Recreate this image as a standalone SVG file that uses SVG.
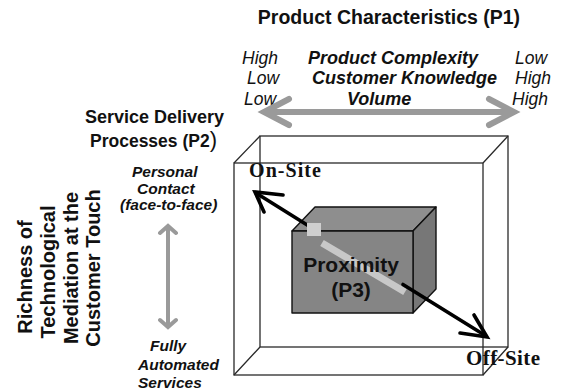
<svg xmlns="http://www.w3.org/2000/svg" width="561" height="390" viewBox="0 0 561 390">
  <style>
    .sans { font-family: "Liberation Sans", Arial, sans-serif; fill: #111; }
    .serif { font-family: "Liberation Serif", "Times New Roman", serif; fill: #111; font-weight: bold; }
    .b { font-weight: bold; }
    .i { font-style: italic; }
    .wire { fill: none; stroke: #2a2a2a; stroke-width: 1.3; }
    .edge { stroke: #111; stroke-width: 1.4; stroke-linejoin: round; }
    .gray-arrow { fill: none; stroke: #9a9a9a; stroke-linejoin: miter; stroke-linecap: round; }
    .black-arrow { fill: none; stroke: #000; stroke-width: 3.6; stroke-linecap: round; stroke-linejoin: miter; }
  </style>

  <!-- Title: product characteristics axis -->
  <g id="title-p1">
    <text class="sans b" x="389" y="24" font-size="19.5" text-anchor="middle">Product Characteristics (P1)</text>
  </g>

  <g id="p1-scale">
    <text class="sans i" font-size="17.5" x="242" y="63.5">High</text>
    <text class="sans i" font-size="17.5" x="247" y="84">Low</text>
    <text class="sans i" font-size="17.5" x="244" y="104.5">Low</text>
    <text class="sans b i" font-size="18" x="308" y="63.5">Product Complexity</text>
    <text class="sans b i" font-size="18" x="312" y="84">Customer Knowledge</text>
    <text class="sans b i" font-size="18" x="347" y="104.5">Volume</text>
    <text class="sans i" font-size="17.5" x="515" y="63.5">Low</text>
    <text class="sans i" font-size="17.5" x="515" y="84">High</text>
    <text class="sans i" font-size="17.5" x="512" y="104.5">High</text>
  </g>

  <!-- Service delivery axis -->
  <g id="title-p2">
    <text class="sans b" font-size="18" x="85" y="123">Service Delivery</text>
    <text class="sans b" font-size="17.5" x="90" y="147">Processes (P2<tspan font-size="22" font-weight="normal">)</tspan></text>
  </g>

  <g id="p2-scale">
    <text class="sans b i" font-size="15.5" x="132" y="177">Personal</text>
    <text class="sans b i" font-size="15.5" x="137" y="194">Contact</text>
    <text class="sans b i" font-size="15.5" x="120" y="210">(face-to-face)</text>
    <text class="sans b i" font-size="15.5" x="150" y="351">Fully</text>
    <text class="sans b i" font-size="15.5" x="138" y="370">Automated</text>
    <text class="sans b i" font-size="15.5" x="138" y="388">Services</text>
  </g>

  <!-- Vertical axis title -->
  <g id="side-title" class="sans b" font-size="20" text-anchor="middle">
    <text transform="translate(32,277) rotate(-90)">Richness of</text>
    <text transform="translate(55,272) rotate(-90)">Technological</text>
    <text transform="translate(78,268) rotate(-90)">Mediation at the</text>
    <text transform="translate(100,268) rotate(-90)">Customer Touch</text>
  </g>

  <!-- Outer wireframe box -->
  <g id="frame-box">
    <rect class="wire" x="260" y="136" width="248" height="211"/>
    <rect class="wire" x="234" y="163" width="249" height="212"/>
    <path class="wire" d="M234,163 L260,136 M483,163 L508,136 M234,375 L260,347 M483,375 L508,347"/>
  </g>

  <g id="connectors">
    <!-- horizontal product axis -->
    <path class="gray-arrow" stroke-width="6" d="M266,112 H512 M289,99 L264,112 L289,125 M489,99 L514,112 L489,125"/>
    <!-- vertical service axis -->
    <path class="gray-arrow" stroke-width="4" d="M168,228 V325 M160,233 L168,226 L176,233 M160,320 L168,327 L176,320"/>
  </g>

  <!-- Proximity cube -->
  <g id="proximity-cube">
    <polygon class="edge" fill="#8e8e8e" points="292,231 315,207 436,207 413,231"/>
    <polygon class="edge" fill="#777777" points="413,231 436,207 436,289 413,313"/>
    <rect class="edge" fill="#858585" x="292" y="231" width="121" height="82"/>
  </g>

  <!-- On-site / off-site diagonal -->
  <g id="proximity-axis">
    <path class="black-arrow" d="M256,193 L312,228"/>
    <rect x="307" y="223" width="14" height="13" fill="#cfcfcf"/>
    <path d="M322,243 L405,292" stroke="#c8c8c8" stroke-width="7" fill="none"/>
    <path class="black-arrow" d="M403,284.5 L486,336"/>
    <path class="black-arrow" d="M283,195 L255,192 L264,212"/>
    <path class="black-arrow" d="M460,333 L487,337 L474,315"/>
  </g>

  <g id="label-proximity">
    <text class="sans b" font-size="21" x="351" y="271.5" text-anchor="middle">Proximity</text>
    <text class="sans b" font-size="21" x="351" y="297" text-anchor="middle">(P3)</text>
  </g>

  <g id="label-on-site">
    <text class="serif" font-size="20" x="249" y="177" textLength="72" lengthAdjust="spacing">On-Site</text>
  </g>
  <g id="label-off-site">
    <text class="serif" font-size="21" x="466" y="365" textLength="74" lengthAdjust="spacing">Off-Site</text>
  </g>
</svg>
